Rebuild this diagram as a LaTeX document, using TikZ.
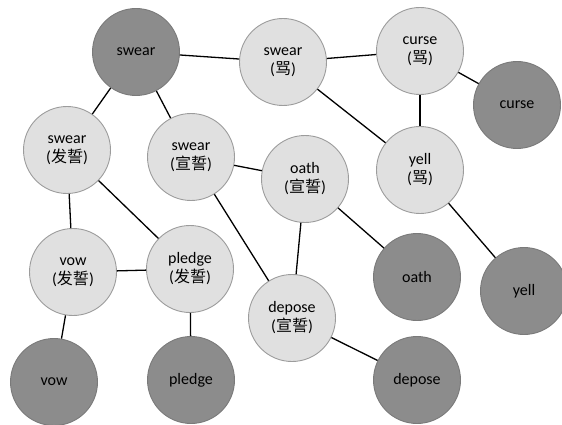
\documentclass[tikz,border=0pt]{standalone}
\usepackage{fontspec}
\setmainfont{Carlito}
\newfontfamily\cjk{Noto Sans CJK SC}
\usepackage{tikz}
\usetikzlibrary{positioning}
\definecolor{lightfill}{HTML}{E0E0E0}
\definecolor{lightline}{HTML}{9C9C9C}
\definecolor{darkfill}{HTML}{8C8C8C}
\definecolor{darkline}{HTML}{7A7A7A}
\tikzset{
    lightnode/.style = {draw=lightline, fill=lightfill, circle, line width=0.9pt, inner sep=0em,
      minimum size=87pt, font=\fontsize{16}{19}\selectfont},
    darknode/.style = {draw=darkline, fill=darkfill, circle, line width=0.9pt, inner sep=0em,
      minimum size=87pt, font=\fontsize{16}{19}\selectfont},
    link/.style = {black, line width=1.3pt},
    every text node part/.style={align=center}
}
\newcommand{\zh}[1]{({\cjk #1})}

\begin{document}
\begin{tikzpicture}[x=1pt, y=-1pt]
    \useasboundingbox (0,0) rectangle (562,425);
    % sense nodes (light) and word nodes (dark)
    \node [darknode, name=Swear] at (136,52) {swear};
    \node [lightnode, name=SwearMa] at (283,62) {swear\\\zh{骂}};
    \node [lightnode, name=CurseMa] at (420,51) {curse\\\zh{骂}};
    \node [darknode, name=Curse] at (517,105) {curse};
    \node [lightnode, name=SwearFa] at (67,150) {swear\\\zh{发誓}};
    \node [lightnode, name=SwearXuan] at (191,157) {swear\\\zh{宣誓}};
    \node [lightnode, name=OathXuan] at (305,179) {oath\\\zh{宣誓}};
    \node [lightnode, name=YellMa] at (420,170) {yell\\\zh{骂}};
    \node [lightnode, name=VowFa] at (73,272) {vow\\\zh{发誓}};
    \node [lightnode, name=PledgeFa] at (190,269) {pledge\\\zh{发誓}};
    \node [lightnode, name=DeposeXuan] at (292,318) {depose\\\zh{宣誓}};
    \node [darknode, name=Oath] at (417,277) {oath};
    \node [darknode, name=Yell] at (524,291) {yell};
    \node [darknode, name=Vow] at (54,382) {vow};
    \node [darknode, name=Pledge] at (191,380) {pledge};
    \node [darknode, name=Depose] at (417,380) {depose};

    \draw [link] (Swear) -- (SwearMa);
    \draw [link] (SwearMa) -- (CurseMa);
    \draw [link] (Swear) -- (SwearFa);
    \draw [link] (Swear) -- (SwearXuan);
    \draw [link] (SwearMa) -- (YellMa);
    \draw [link] (CurseMa) -- (Curse);
    \draw [link] (CurseMa) -- (YellMa);
    \draw [link] (SwearFa) -- (VowFa);
    \draw [link] (SwearFa) -- (PledgeFa);
    \draw [link] (SwearXuan) -- (OathXuan);
    \draw [link] (SwearXuan) -- (DeposeXuan);
    \draw [link] (OathXuan) -- (DeposeXuan);
    \draw [link] (OathXuan) -- (Oath);
    \draw [link] (YellMa) -- (Yell);
    \draw [link] (VowFa) -- (PledgeFa);
    \draw [link] (VowFa) -- (Vow);
    \draw [link] (PledgeFa) -- (Pledge);
    \draw [link] (DeposeXuan) -- (Depose);
\end{tikzpicture}
\end{document}
